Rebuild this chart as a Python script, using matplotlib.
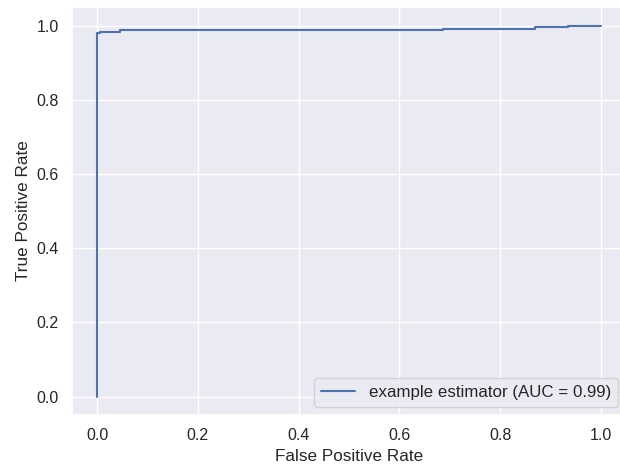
import matplotlib
matplotlib.use("Agg")
import matplotlib.pyplot as plt
import seaborn as sns

# ROC curve points
fpr = [0.0, 0.0, 0.005, 0.005, 0.046, 0.046, 0.686, 0.686, 0.869, 0.869, 0.935, 0.935, 1.0]
tpr = [0.0, 0.981, 0.981, 0.984, 0.984, 0.987, 0.987, 0.991, 0.991, 0.995, 0.995, 1.0, 1.0]
label = "example estimator (AUC = 0.99)"

sns.set_theme()
plt.rcParams['font.family'] = ['Liberation Sans', 'DejaVu Sans']
plt.rcParams['axes.labelsize'] = 12.3
plt.rcParams['xtick.labelsize'] = 11.5
plt.rcParams['ytick.labelsize'] = 11.5
plt.rcParams['legend.fontsize'] = 12.2

fig, ax = plt.subplots(figsize=(6.2, 4.69), dpi=100)
# the original image is cut off a little on the right
fig.subplots_adjust(left=0.116, right=1.01, bottom=0.115, top=0.985)
ax.plot(fpr, tpr, color="#4c72b0", label=label)
ax.set_xlabel("False Positive Rate")
ax.set_ylabel("True Positive Rate")
ax.legend(loc="lower right")
fig.savefig("out.png")
